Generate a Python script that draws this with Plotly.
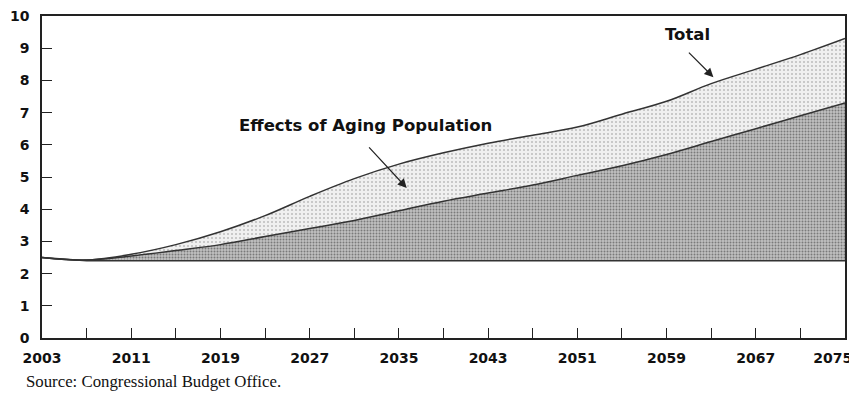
import plotly.graph_objects as go

years = [2003, 2007, 2011, 2015, 2019, 2023, 2027, 2031, 2035, 2039,
         2043, 2047, 2051, 2055, 2059, 2063, 2067, 2071, 2075]
baseline = [2.5, 2.4, 2.4, 2.4, 2.4, 2.4, 2.4, 2.4, 2.4, 2.4,
            2.4, 2.4, 2.4, 2.4, 2.4, 2.4, 2.4, 2.4, 2.4]
aging = [2.5, 2.42, 2.55, 2.72, 2.9, 3.15, 3.4, 3.65, 3.95, 4.25,
         4.5, 4.75, 5.05, 5.35, 5.7, 6.1, 6.5, 6.9, 7.3]
total = [2.5, 2.42, 2.6, 2.9, 3.3, 3.8, 4.4, 4.95, 5.4, 5.75,
         6.05, 6.3, 6.55, 6.95, 7.35, 7.9, 8.35, 8.8, 9.3]

tick_years = list(range(2003, 2076, 4))
tick_text = [str(y) if (y - 2003) % 8 == 0 else "" for y in tick_years]
tick_text[-1] = "2075" + "\u00a0" * 5   # nudge the last label left, like the original

fig = go.Figure()
fig.add_trace(go.Scatter(x=years, y=baseline, mode="lines",
                         line=dict(color="#333", width=1.5), showlegend=False))
fig.add_trace(go.Scatter(x=years, y=aging, mode="lines", fill="tonexty",
                         fillcolor="#b8b8b8",
                         fillpattern=dict(shape=".", fgcolor="#333", bgcolor="#c0c0c0",
                                          size=3, solidity=0.35),
                         line=dict(color="#333", width=1.5, shape="spline"),
                         showlegend=False))
fig.add_trace(go.Scatter(x=years, y=total, mode="lines", fill="tonexty",
                         fillcolor="#ececec",
                         fillpattern=dict(shape=".", fgcolor="#888", bgcolor="#f0f0f0",
                                          size=4, solidity=0.2),
                         line=dict(color="#333", width=1.5, shape="spline"),
                         showlegend=False))

bold = dict(family="DejaVu Sans", size=14, color="#111", weight="bold")
note = dict(family="DejaVu Sans", size=16.5, color="#111", weight="bold")

# arrows
fig.add_annotation(x=2035.7, y=4.66, ax=-39, ay=-42, text="", showarrow=True,
                   arrowhead=2, arrowsize=1.5, arrowwidth=1.2, arrowcolor="#222")
fig.add_annotation(x=2063.2, y=8.1, ax=-26, ay=-26, text="", showarrow=True,
                   arrowhead=2, arrowsize=1.5, arrowwidth=1.2, arrowcolor="#222")
# labels
fig.add_annotation(x=2032, y=6.6, text="Effects of Aging Population",
                   showarrow=False, font=note)
fig.add_annotation(x=2060.9, y=9.42, text="Total", showarrow=False, font=note)
fig.add_annotation(xref="paper", yref="paper", x=-0.0225, y=-0.1, xanchor="left",
                   yanchor="top", text="Source: Congressional Budget Office.",
                   showarrow=False,
                   font=dict(family="Liberation Serif", size=16.8, color="#111"))

fig.update_xaxes(range=[2003, 2075], tickvals=tick_years, ticktext=tick_text,
                 ticks="inside", ticklen=10, tickcolor="#222", showline=True,
                 linecolor="#222", linewidth=1.5, mirror=True, showgrid=False,
                 zeroline=False, tickfont=bold, ticklabelstandoff=6,
                 ticklabeloverflow="allow", automargin=False)
fig.update_yaxes(range=[0, 10], tickvals=list(range(0, 11)), ticks="inside",
                 ticklen=10, tickcolor="#222", showline=True, linecolor="#222",
                 linewidth=1.5, mirror=True, showgrid=False, zeroline=False,
                 tickfont=bold, ticklabelstandoff=8, ticklabeloverflow="allow",
                 automargin=False)

# page body adds 8px; size the figure so it fits the 857x401 window
fig.update_layout(width=849, height=393, margin=dict(l=34, r=12, t=8, b=63),
                  plot_bgcolor="white", paper_bgcolor="white")

fig.write_html("out.html")
